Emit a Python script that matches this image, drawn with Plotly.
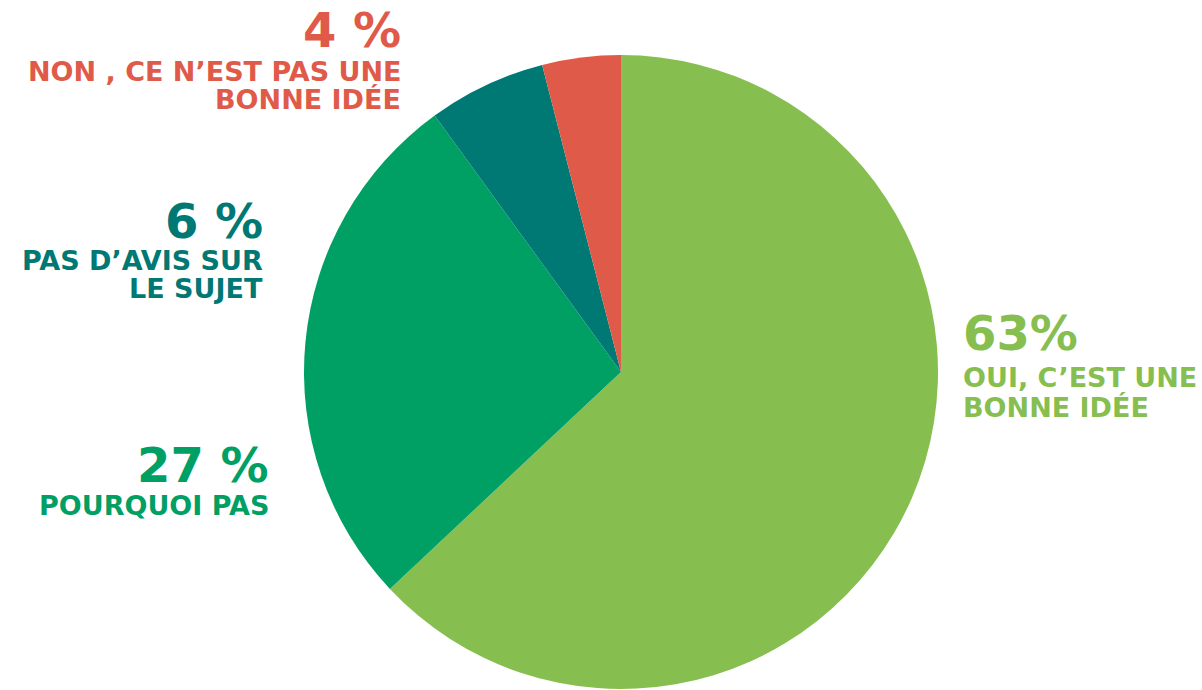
import plotly.graph_objects as go

labels = ["OUI, C'EST UNE BONNE IDÉE", "POURQUOI PAS", "PAS D'AVIS SUR LE SUJET", "NON , CE N'EST PAS UNE BONNE IDÉE"]
values = [63, 27, 6, 4]
colors = ["#86BE4F", "#00A064", "#007873", "#E05A49"]

pct_text = ["63%", "27 %", "6 %", "4 %"]
label_lines = [["OUI, C’EST UNE", "BONNE IDÉE"], ["POURQUOI PAS"], ["PAS D’AVIS SUR", "LE SUJET"], ["NON , CE N’EST PAS UNE", "BONNE IDÉE"]]

FONT = "DejaVu Sans"

fig = go.Figure(go.Pie(
    labels=labels, values=values, sort=False, direction="clockwise", rotation=0,
    marker=dict(colors=colors, line=dict(width=0)),
    textinfo="none", hoverinfo="label+percent", showlegend=False,
    domain=dict(x=[304/1202, 938/1202], y=[1-689/690, 1-55/690]),
))

# (x px, y px of big number cap centre, y px of first label line cap centre, anchor)
pos = [
    (961, 333, 378, "left"),
    (271, 465, 506, "right"),
    (265, 221, 260, "right"),
    (403, 30, 71, "right"),
]
LINE_GAP = 29
ann = []
for (x, yn, yl, anc), p, lines, c in zip(pos, pct_text, label_lines, colors):
    ann.append(dict(x=x/1202, y=1-yn/690, xref="paper", yref="paper", text=f"<b>{p}</b>",
                    showarrow=False, xanchor=anc, yanchor="middle", align=anc,
                    font=dict(family=FONT, size=48, color=c)))
    for i, l in enumerate(lines):
        ann.append(dict(x=x/1202, y=1-(yl + i*LINE_GAP)/690, xref="paper", yref="paper", text=f"<b>{l}</b>",
                        showarrow=False, xanchor=anc, yanchor="middle", align=anc,
                        font=dict(family=FONT, size=27, color=c)))

fig.update_layout(width=1202, height=690, margin=dict(l=0, r=0, t=0, b=0),
                  paper_bgcolor="white", plot_bgcolor="white", annotations=ann)
fig.write_html("out.html", config={"displayModeBar": False},
               post_script="document.body.style.margin='0';document.body.style.overflow='hidden';")
